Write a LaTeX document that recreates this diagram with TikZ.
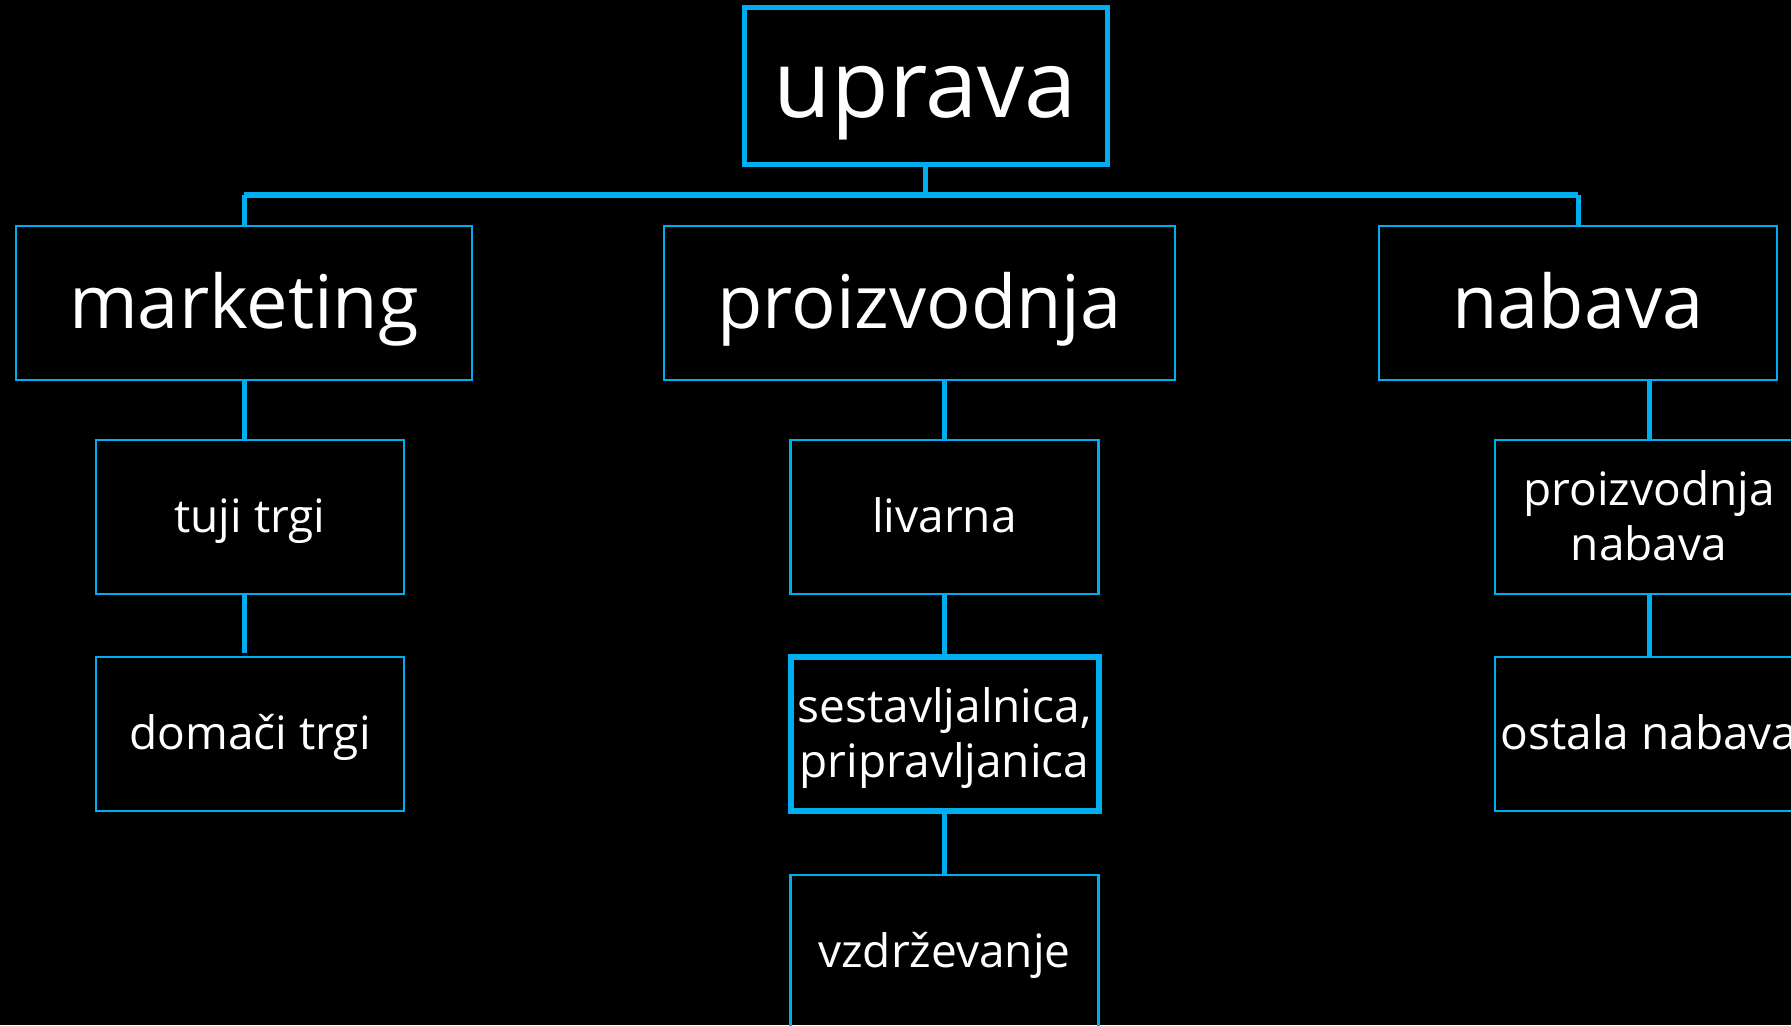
\documentclass[tikz,border=0pt]{standalone}
\usepackage{fontspec}
\setmainfont{Open Sans}
\usetikzlibrary{calc,positioning}
\definecolor{orgblue}{HTML}{00AEEF}

\begin{document}
\begin{tikzpicture}[
    % one unit is one pixel of the picture, y grows downwards
    x=0.5pt, y=-0.5pt,
    % general settings
    node distance=30pt,
    align=center,
    % nodes
    base/.style={rectangle, draw=orgblue, line width=1.25pt, text=white, inner sep=0pt, outer sep=0pt, minimum height=77pt},
    head/.style={base, line width=2.5pt, minimum width=181.5pt, minimum height=78.5pt, font=\fontsize{47}{56}\selectfont, text height=32pt, text depth=0pt},
    dept/.style={base, font=\fontsize{37}{44}\selectfont, text height=25pt, text depth=0pt},
    unit/.style={base, minimum width=154pt, font=\fontsize{23}{27.5}\selectfont, text height=15pt, text depth=0pt},
    twoline/.style={text height=43.5pt, text depth=0pt},
    hlunit/.style={unit, line width=3pt},
    % connectors
    link/.style={orgblue, line width=2.5pt},
    toplink/.style={orgblue, line width=2.5pt},
    hbar/.style={orgblue, line width=3pt},
  ]

  % black page
  \fill[black, use as bounding box] (0,0) rectangle (1791,1025);
  \clip (0,0) rectangle (1791,1025);

  \node (uprava)      [head] at (925.5,85.5)                    {uprava};

  \node (marketing)   [dept, minimum width=228pt]   at (244,303)  {marketing};
  \node (proizvodnja) [dept, minimum width=255.5pt] at (919.5,303){proizvodnja};
  \node (nabava)      [dept, minimum width=199pt]   at (1578,303) {nabava};

  % marketing
  \node (tuji)    [unit, below=30pt of marketing, xshift=3pt]   {tuji trgi};
  \node (domaci)  [unit, below=31.5pt of tuji]                  {domači trgi};

  % proizvodnja
  \node (livarna) [unit, below=30pt of proizvodnja, xshift=12.5pt] {livarna};
  \node (sestav)  [hlunit, twoline, below=31.5pt of livarna]       {sestavljalnica,\\
                                                                    pripravljanica};
  \node (vzdrz)   [unit, below=32pt of sestav]                     {vzdrževanje};

  % nabava
  \node (pnabava) [unit, twoline, below=30pt of nabava, xshift=35.5pt] {proizvodnja\\
                                                                        nabava};
  \node (ostala)  [unit, below=31.5pt of pnabava]                      {ostala nabava};

  % bar under uprava
  \coordinate (hub) at ($(uprava.south)+(0,30.5)$);

  \draw[toplink] (uprava.south)    -- (hub);
  \draw[toplink] (marketing.north) -- (marketing.north |- hub);
  \draw[toplink] (nabava.north)    -- (nabava.north |- hub);
  \draw[hbar]    (marketing.north |- hub) -- (nabava.north |- hub);

  % lower levels
  \draw[link] (marketing.south)        -- (marketing.south |- tuji.north);
  \draw[link] (marketing.south |- tuji.south) -- ($(marketing.south |- domaci.north)+(0,-4)$);
  \draw[link] (livarna.north) -- (livarna.north |- proizvodnja.south);
  \draw[link] (sestav.north)  -- (livarna.south);
  \draw[link] (vzdrz.north)   -- (sestav.south);
  \draw[link] (pnabava.north) -- (pnabava.north |- nabava.south);
  \draw[link] (ostala.north)  -- (pnabava.south);

\end{tikzpicture}
\end{document}
